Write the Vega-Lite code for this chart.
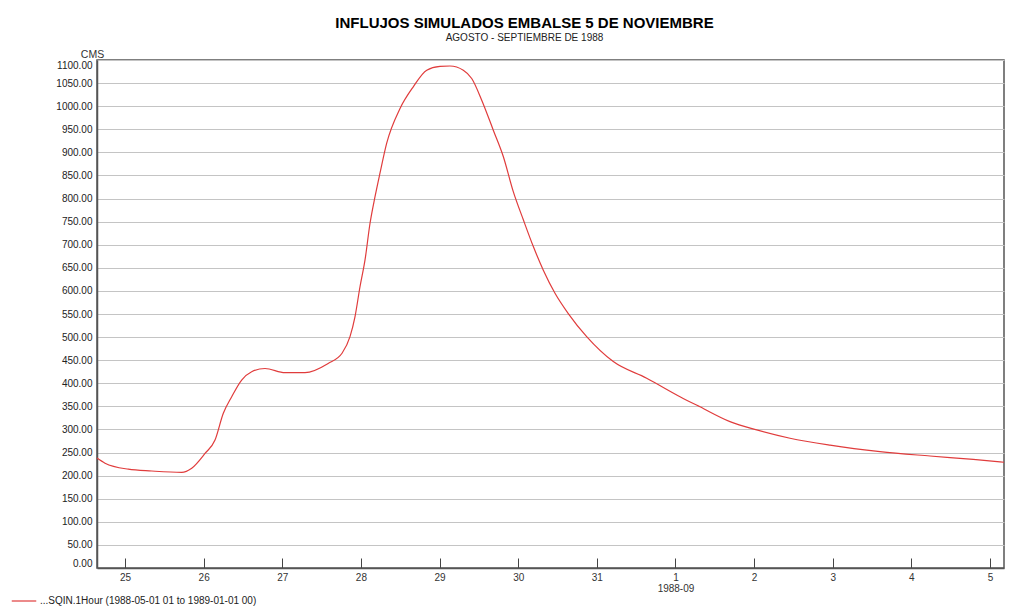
{
  "$schema": "https://vega.github.io/schema/vega-lite/v6.json",
  "width": 907,
  "height": 508,
  "autosize": {"type": "none"},
  "padding": {"left": 97, "top": 60, "right": 25, "bottom": 39},
  "background": "white",
  "title": {
    "text": "INFLUJOS SIMULADOS EMBALSE 5 DE NOVIEMBRE",
    "subtitle": "AGOSTO - SEPTIEMBRE DE 1988",
    "anchor": "middle",
    "frame": "group",
    "dx": -26,
    "font": "Liberation Sans",
    "fontSize": 15,
    "fontWeight": "bold",
    "color": "#000000",
    "subtitleFont": "Liberation Sans",
    "subtitleFontSize": 10,
    "subtitleColor": "#222222",
    "subtitlePadding": 2,
    "offset": 6
  },
  "config": {
    "font": "Liberation Sans",
    "view": {"stroke": "#555555", "strokeWidth": 1.5}
  },
  "data": {
    "values": [
      {"t": "1988-08-24T15:27:00Z", "q": 238},
      {"t": "1988-08-24T17:54:00Z", "q": 227},
      {"t": "1988-08-25T01:00:00Z", "q": 214},
      {"t": "1988-08-25T08:09:00Z", "q": 210},
      {"t": "1988-08-25T17:18:00Z", "q": 207},
      {"t": "1988-08-25T20:22:00Z", "q": 216},
      {"t": "1988-08-26T00:25:00Z", "q": 248},
      {"t": "1988-08-26T03:28:00Z", "q": 277},
      {"t": "1988-08-26T06:00:00Z", "q": 335},
      {"t": "1988-08-26T08:34:00Z", "q": 371},
      {"t": "1988-08-26T11:36:00Z", "q": 407},
      {"t": "1988-08-26T14:39:00Z", "q": 425},
      {"t": "1988-08-26T18:44:00Z", "q": 432},
      {"t": "1988-08-27T00:50:00Z", "q": 423},
      {"t": "1988-08-27T06:56:00Z", "q": 423},
      {"t": "1988-08-27T14:00:00Z", "q": 443},
      {"t": "1988-08-27T18:14:00Z", "q": 465},
      {"t": "1988-08-27T20:40:00Z", "q": 501},
      {"t": "1988-08-27T22:11:00Z", "q": 544},
      {"t": "1988-08-27T23:43:00Z", "q": 609},
      {"t": "1988-08-28T01:15:00Z", "q": 667},
      {"t": "1988-08-28T02:46:00Z", "q": 746},
      {"t": "1988-08-28T04:18:00Z", "q": 804},
      {"t": "1988-08-28T05:49:00Z", "q": 855},
      {"t": "1988-08-28T07:52:00Z", "q": 920},
      {"t": "1988-08-28T11:56:00Z", "q": 995},
      {"t": "1988-08-28T15:59:00Z", "q": 1042},
      {"t": "1988-08-28T20:05:00Z", "q": 1078},
      {"t": "1988-08-29T00:08:00Z", "q": 1086},
      {"t": "1988-08-29T03:11:00Z", "q": 1087},
      {"t": "1988-08-29T07:15:00Z", "q": 1078},
      {"t": "1988-08-29T09:49:00Z", "q": 1060},
      {"t": "1988-08-29T12:52:00Z", "q": 1013},
      {"t": "1988-08-29T16:24:00Z", "q": 948},
      {"t": "1988-08-29T19:27:00Z", "q": 891},
      {"t": "1988-08-29T22:30:00Z", "q": 815},
      {"t": "1988-08-30T01:34:00Z", "q": 754},
      {"t": "1988-08-30T04:37:00Z", "q": 696},
      {"t": "1988-08-30T07:40:00Z", "q": 645},
      {"t": "1988-08-30T11:14:00Z", "q": 595},
      {"t": "1988-08-30T15:17:00Z", "q": 551},
      {"t": "1988-08-30T20:54:00Z", "q": 501},
      {"t": "1988-08-31T05:01:00Z", "q": 447},
      {"t": "1988-08-31T15:13:00Z", "q": 411},
      {"t": "1988-09-01T01:23:00Z", "q": 371},
      {"t": "1988-09-01T07:29:00Z", "q": 349},
      {"t": "1988-09-01T16:38:00Z", "q": 317},
      {"t": "1988-09-02T00:47:00Z", "q": 299},
      {"t": "1988-09-02T10:57:00Z", "q": 281},
      {"t": "1988-09-02T23:10:00Z", "q": 266},
      {"t": "1988-09-03T14:25:00Z", "q": 252},
      {"t": "1988-09-04T05:41:00Z", "q": 242.5},
      {"t": "1988-09-04T18:53:00Z", "q": 235},
      {"t": "1988-09-05T04:16:00Z", "q": 229}
    ]
  },
  "mark": {"type": "line", "strokeWidth": 1.2, "interpolate": "monotone"},
  "encoding": {
    "x": {
      "field": "t",
      "type": "temporal",
      "scale": {
        "type": "utc",
        "nice": false,
        "domain": [
          {"year": 1988, "month": 8, "date": 24, "hours": 15, "minutes": 27, "utc": true},
          {"year": 1988, "month": 9, "date": 5, "hours": 4, "minutes": 16, "utc": true}
        ]
      },
      "axis": {
        "title": null,
        "grid": false,
        "values": [
          {"year": 1988, "month": 8, "date": 25, "utc": true},
          {"year": 1988, "month": 8, "date": 26, "utc": true},
          {"year": 1988, "month": 8, "date": 27, "utc": true},
          {"year": 1988, "month": 8, "date": 28, "utc": true},
          {"year": 1988, "month": 8, "date": 29, "utc": true},
          {"year": 1988, "month": 8, "date": 30, "utc": true},
          {"year": 1988, "month": 8, "date": 31, "utc": true},
          {"year": 1988, "month": 9, "date": 1, "utc": true},
          {"year": 1988, "month": 9, "date": 2, "utc": true},
          {"year": 1988, "month": 9, "date": 3, "utc": true},
          {"year": 1988, "month": 9, "date": 4, "utc": true},
          {"year": 1988, "month": 9, "date": 5, "utc": true}
        ],
        "labelExpr": "utcdate(datum.value) == 1 ? ['1', '1988-09'] : '' + utcdate(datum.value)",
        "labelFont": "Liberation Sans",
        "labelFontSize": 10,
        "labelColor": "#333333",
        "labelLineHeight": 11,
        "labelPadding": 14,
        "tickSize": -10,
        "tickColor": "#444444",
        "tickWidth": 1,
        "domainColor": "#555555",
        "domainWidth": 1.5
      }
    },
    "y": {
      "field": "q",
      "type": "quantitative",
      "scale": {"domain": [0, 1100], "nice": false},
      "axis": {
        "title": "CMS",
        "titleAngle": 0,
        "titleAlign": "center",
        "titleBaseline": "alphabetic",
        "titleX": -5,
        "titleY": -3,
        "titleFont": "Liberation Sans",
        "titleFontSize": 10.5,
        "titleFontWeight": "normal",
        "titleColor": "#333333",
        "values": [0, 50, 100, 150, 200, 250, 300, 350, 400, 450, 500, 550, 600, 650, 700, 750, 800, 850, 900, 950, 1000, 1050, 1100],
        "format": ".2f",
        "labelFlush": true,
        "labelFont": "Liberation Sans",
        "labelFontSize": 10,
        "labelColor": "#222222",
        "labelPadding": 5,
        "ticks": false,
        "grid": true,
        "gridColor": "#c4c4c4",
        "gridWidth": 1.2,
        "domainColor": "#555555",
        "domainWidth": 1.5
      }
    },
    "color": {
      "datum": "...SQIN.1Hour (1988-05-01 01 to 1989-01-01 00)",
      "scale": {"range": ["#e03c3c"]},
      "legend": {
        "title": null,
        "orient": "none",
        "legendX": -86,
        "legendY": 528,
        "symbolType": "stroke",
        "symbolSize": 600,
        "symbolStrokeWidth": 1.2,
        "symbolStrokeColor": "#e03c3c",
        "labelFont": "Liberation Sans",
        "labelFontSize": 10,
        "labelColor": "#222222",
        "labelLimit": 0,
        "labelOffset": 3,
        "padding": 0
      }
    }
  }
}
